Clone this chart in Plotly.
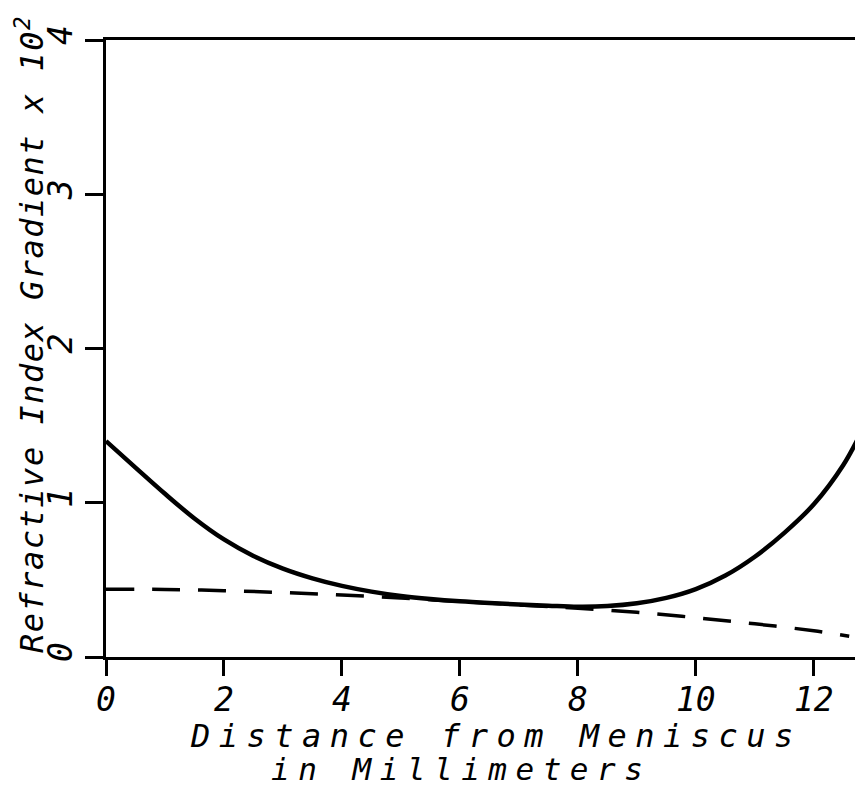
import plotly.graph_objects as go

# Data
solid_x = [0, 0.5, 1.0, 1.5, 2.0, 2.5, 3.0, 3.5, 4.0, 4.5, 5.0, 5.5, 6.0, 6.5, 7.0,
           7.5, 8.0, 8.5, 9.0, 9.5, 10.0, 10.5, 11.0, 11.5, 12.0, 12.5, 12.8]
solid_y = [1.40, 1.228, 1.058, 0.898, 0.762, 0.655, 0.573, 0.51, 0.461, 0.424, 0.396,
           0.376, 0.361, 0.35, 0.341, 0.333, 0.326, 0.33, 0.348, 0.383, 0.44, 0.528,
           0.65, 0.805, 0.99, 1.245, 1.455]
dash_x = [0, 1, 2, 3, 4, 5, 6, 7, 8, 9, 10, 11, 12, 12.6]
dash_y = [0.44, 0.438, 0.43, 0.418, 0.402, 0.382, 0.36, 0.338, 0.316, 0.29, 0.255,
          0.215, 0.17, 0.135]
x_ticks = [0, 2, 4, 6, 8, 10, 12]
y_ticks = [0, 1, 2, 3, 4]
x_title_1 = "Distance from Meniscus"
x_title_2 = "in Millimeters"
y_title = "Refractive Index Gradient x 10<sup>2</sup>"

FONT = "DejaVu Sans Mono"

fig = go.Figure()
fig.add_trace(go.Scatter(x=dash_x, y=dash_y, mode="lines", line_shape="spline",
                         line=dict(color="black", width=3.5, dash="28px,18px"),
                         showlegend=False, hoverinfo="skip"))
fig.add_trace(go.Scatter(x=solid_x, y=solid_y, mode="lines", line_shape="spline",
                         line=dict(color="black", width=4.5),
                         showlegend=False, hoverinfo="skip"))

# The page body has an 8px default margin, so the figure is drawn 8px smaller
# and all screen positions are shifted accordingly.
OFF = 8
W, H = 863 - OFF, 786 - OFF
PL, PR, PT, PB = 106, 861, 40, 657          # plot area in screen pixels
L, T = PL - OFF, PT - OFF
R = W - (PR - OFF)
B = H - (PB - OFF)
pw, ph = PR - PL, PB - PT


def px_to_paper_x(px):
    return (px - PL) / pw


def px_to_paper_y(py):
    return (PB - py) / ph


def spaced(text, px):
    return '<span style="letter-spacing:%gpx">%s</span>' % (px, text)


axis_common = dict(showgrid=False, zeroline=False, showline=True, mirror=True,
                   linecolor="black", linewidth=3, ticks="outside",
                   tickwidth=3, tickcolor="black", automargin=False,
                   tickfont=dict(family=FONT, size=33, style="italic"))

fig.update_layout(
    width=W, height=H,
    margin=dict(l=L, r=R, t=T, b=B, pad=0),
    paper_bgcolor="white", plot_bgcolor="white",
    font=dict(family=FONT, color="black", size=30, style="italic"),
    xaxis=dict(range=[0, 12.8], tickvals=x_ticks, ticktext=[str(v) for v in x_ticks],
               ticklen=16, ticklabelstandoff=-5, **axis_common),
    yaxis=dict(range=[0, 4], tickvals=y_ticks, ticktext=[str(v) for v in y_ticks],
               ticklen=18, tickangle=-90, **axis_common),
    annotations=[
        dict(text=spaced(x_title_1, 8.5), xref="paper", yref="paper",
             x=px_to_paper_x(496), y=px_to_paper_y(736), showarrow=False,
             xanchor="center", yanchor="middle",
             font=dict(family=FONT, size=32, style="italic")),
        dict(text=spaced(x_title_2, 8.5), xref="paper", yref="paper",
             x=px_to_paper_x(461), y=px_to_paper_y(769), showarrow=False,
             xanchor="center", yanchor="middle",
             font=dict(family=FONT, size=31, style="italic")),
        dict(text=spaced(y_title, 1.5), xref="paper", yref="paper",
             x=px_to_paper_x(30), y=px_to_paper_y(334), showarrow=False,
             xanchor="center", yanchor="middle", textangle=-90,
             font=dict(family=FONT, size=32, style="italic")),
    ],
)

fig.write_html("out.html")
